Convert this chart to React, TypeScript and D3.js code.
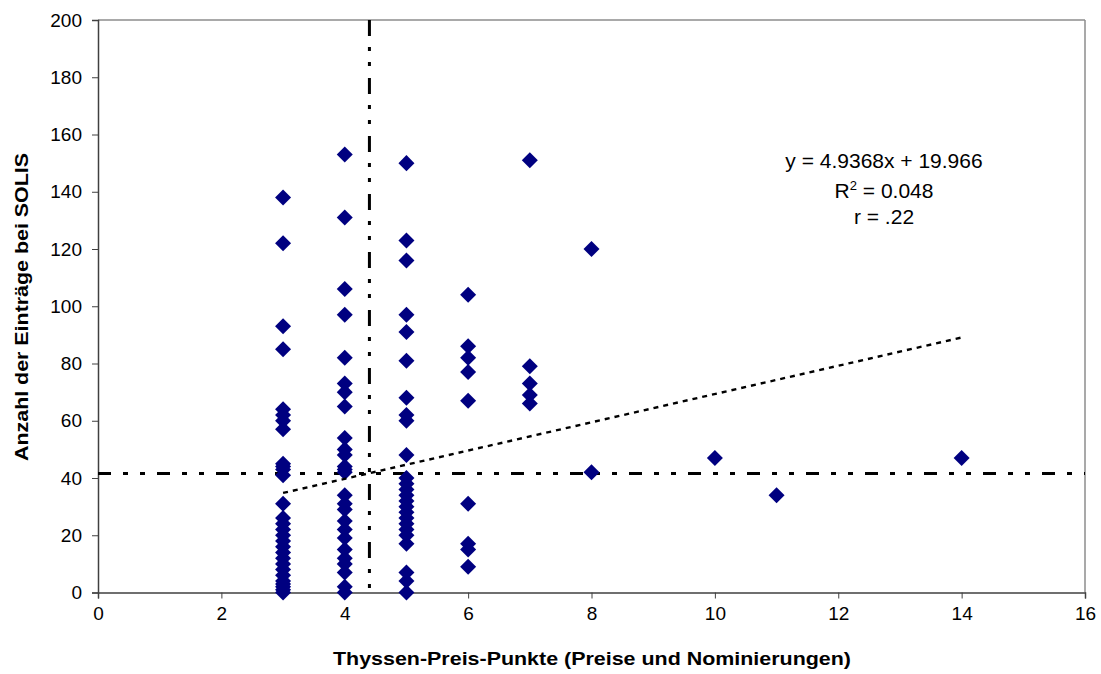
import * as d3 from "d3";
import React, { useRef, useEffect } from 'react'

// Thyssen-Preis-Punkte (x) und SOLIS-Einträge (y), nach Spalten
const punkte = [3, 4, 5, 6, 7, 8, 10, 11, 14]
const eintraege3 = [138, 122, 93, 85, 64, 62, 60, 57, 45, 44, 43, 41, 31, 26, 24, 22, 20, 18, 16, 14, 12, 10, 8, 6, 4, 3, 2, 1, 0]
const eintraege4 = [153, 131, 106, 97, 82, 73, 70, 65, 54, 50, 48, 44, 43, 42, 34, 31, 29, 25, 22, 19, 15, 12, 10, 7, 2, 0]
const eintraege5 = [150, 123, 116, 97, 91, 81, 68, 62, 60, 48, 40, 38, 36, 34, 32, 30, 28, 26, 24, 22, 20, 17, 7, 4, 0]
const eintraege6 = [104, 86, 82, 77, 67, 31, 17, 15, 9]
const eintraege7 = [151, 79, 73, 69, 66]
const eintraege8 = [120, 42]
const eintraege10 = [47]
const eintraege11 = [34]
const eintraege14 = [47]
const spalten = [eintraege3, eintraege4, eintraege5, eintraege6, eintraege7, eintraege8, eintraege10, eintraege11, eintraege14]

const xTicks = [0, 2, 4, 6, 8, 10, 12, 14, 16]
const yTicks = [0, 20, 40, 60, 80, 100, 120, 140, 160, 180, 200]

// Trendlinie und Mittelwerte
const slope = 4.9368
const intercept = 19.966
const trendRange = [3, 14]
const meanX = 4.4
const meanY = 41.6

const W = 1101, H = 674
const m = { l: 98, r: 1085, t: 20, b: 592.5 }

const App: React.FC = () => {
  const gx = useRef(null)
  const gy = useRef(null)

  const x = d3.scaleLinear([0, 16], [m.l, m.r])
  const y = d3.scaleLinear([0, 200], [m.b, m.t])

  const points: [number, number][] = []
  spalten.forEach((col, i) => col.forEach(v => points.push([punkte[i], v])))

  const diamond = d3.symbol(d3.symbolSquare, 128)()

  useEffect(() => {
    if (!gx.current) return
    const g = d3.select(gx.current as SVGGElement)
    g.call(d3.axisBottom(x).tickValues(xTicks).tickSize(6).tickPadding(8).tickFormat(d3.format("d")))
    g.select(".domain").attr("stroke", "#404040").attr("stroke-width", 1.5)
    g.selectAll(".tick line").attr("stroke", "#404040")
    g.selectAll(".tick text").attr("font-size", 19).attr("font-family", "Liberation Sans, Arial").attr("fill", "#000")
  }, [gx])

  useEffect(() => {
    if (!gy.current) return
    const g = d3.select(gy.current as SVGGElement)
    g.call(d3.axisLeft(y).tickValues(yTicks).tickSize(6).tickPadding(10).tickFormat(d3.format("d")))
    g.select(".domain").attr("stroke", "#404040").attr("stroke-width", 1.5)
    g.selectAll(".tick line").attr("stroke", "#404040")
    g.selectAll(".tick text").attr("font-size", 19).attr("font-family", "Liberation Sans, Arial").attr("fill", "#000")
  }, [gy])

  const font = "Liberation Sans, Arial, sans-serif"

  return (
    <div style={{ position: "absolute", left: 0, top: 0 }}>
      <svg width={W} height={H} style={{ display: "block", background: "#fff" }}>
        {/* Rahmen oben/rechts */}
        <line x1={m.l} x2={m.r} y1={m.t} y2={m.t} stroke="#8c8c8c" strokeWidth={1.5} />
        <line x1={m.r} x2={m.r} y1={m.t} y2={m.b} stroke="#8c8c8c" strokeWidth={1.5} />
        <g ref={gx} transform={`translate(0, ${m.b})`} />
        <g ref={gy} transform={`translate(${m.l}, 0)`} />

        {/* Mittelwert-Linien */}
        <line x1={x(meanX)} x2={x(meanX)} y1={m.t} y2={m.b} stroke="#000" strokeWidth={3} strokeDasharray="16 11 4 11 4 12" />
        <line x1={m.l} x2={m.r} y1={y(meanY)} y2={y(meanY)} stroke="#000" strokeWidth={3} strokeDasharray="13 12 5 12 5 12" />

        {points.map((d, i) =>
          <path key={i} d={diamond!} fill="#000080"
            transform={`translate(${x(d[0])}, ${y(d[1])}) rotate(45)`} />)}

        {/* Trendlinie */}
        <line x1={x(trendRange[0])} y1={y(slope * trendRange[0] + intercept)}
          x2={x(trendRange[1])} y2={y(slope * trendRange[1] + intercept)}
          stroke="#000" strokeWidth={2.4} strokeDasharray="5 5" />

        <g fontFamily={font} fontSize={21} textAnchor="middle" fill="#000">
          <text x={884} y={168}>y = 4.9368x + 19.966</text>
          <text x={884} y={198}>R<tspan dy={-8} fontSize={13}>2</tspan><tspan dy={8}> = 0.048</tspan></text>
          <text x={884} y={224}>r = .22</text>
        </g>

        <text x={592} y={665} textAnchor="middle" fontFamily={font} fontSize={19} fontWeight="bold"
          textLength={518} lengthAdjust="spacingAndGlyphs">
          Thyssen-Preis-Punkte (Preise und Nominierungen)
        </text>
        <text transform={`translate(28, 307) rotate(-90)`} textAnchor="middle" fontFamily={font} fontSize={19} fontWeight="bold"
          textLength={308} lengthAdjust="spacingAndGlyphs">
          Anzahl der Einträge bei SOLIS
        </text>
      </svg>
    </div>
  )
}

export default App
